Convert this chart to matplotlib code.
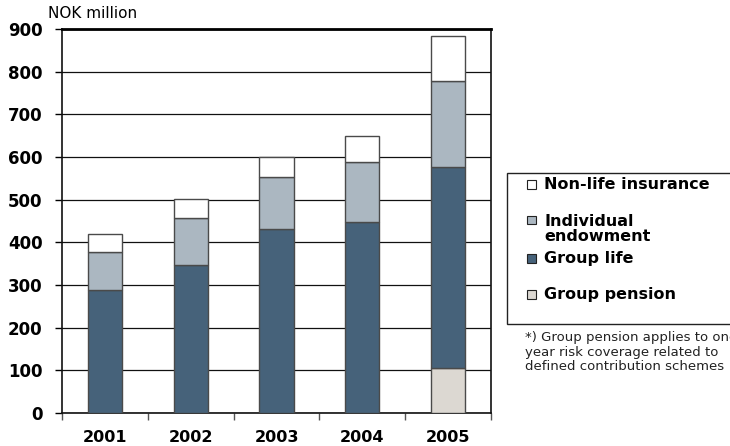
import numpy as np
import matplotlib.pyplot as plt
from matplotlib.patches import Rectangle

years = ["2001", "2002", "2003", "2004", "2005"]
group_pension = [0, 0, 0, 0, 106]
group_life = [288, 348, 432, 448, 471]
endowment = [90, 108, 121, 141, 200]
non_life = [42, 46, 47, 60, 107]

series = [
    ("Group pension", group_pension, "#dcd8d2"),
    ("Group life", group_life, "#46627a"),
    ("Individual\nendowment", endowment, "#abb7c1"),
    ("Non-life insurance", non_life, "#ffffff"),
]

plt.rcParams['font.family'] = ['DejaVu Sans']

fig = plt.figure(figsize=(7.3, 4.46), dpi=100)
ax = fig.add_axes([62 / 730, 1 - 413 / 446, 429 / 730, 384 / 446])

x = np.arange(len(years))
bottom = np.zeros(len(years))
for name, vals, col in series:
    vals = np.array(vals, dtype=float)
    ax.bar(x, vals, width=0.4, bottom=bottom, color=col,
           edgecolor="#4a4a4a", linewidth=1.0, zorder=3)
    bottom += vals

ax.set_xlim(-0.5, 4.5)
ax.set_ylim(0, 900)
ax.set_yticks(np.arange(0, 901, 100))
ax.yaxis.grid(True, color="#111111", linewidth=0.9, zorder=0)
ax.set_axisbelow(True)

# category boundaries carry the ticks, centres carry the labels
ax.set_xticks(np.arange(-0.5, 5.0, 1.0))
ax.set_xticklabels([])
ax.set_xticks(x, minor=True)
ax.set_xticklabels(years, minor=True, fontsize=11.5, fontweight="bold")
ax.tick_params(axis="x", which="minor", length=0, pad=12)
ax.tick_params(axis="x", which="major", length=5, width=1, color="#555555")
ax.tick_params(axis="y", length=5, width=1, pad=9, labelsize=12)
for lab in ax.get_yticklabels():
    lab.set_fontweight("bold")

for side in ["left", "bottom", "right"]:
    ax.spines[side].set_color("#111111")
    ax.spines[side].set_linewidth(1.2)
ax.spines["top"].set_linewidth(2.0)

fig.text(48 / 730, 1 - 14 / 446, "NOK million", fontsize=11, va="center", ha="left")

# legend box
fig.add_artist(Rectangle((507 / 730, 1 - 324 / 446), 240 / 730, 151 / 446,
                         transform=fig.transFigure, facecolor="white",
                         edgecolor="#222222", linewidth=1.0))
legend_rows = [
    ("Non-life insurance", "#ffffff", 184),
    ("Individual\nendowment", "#abb7c1", 229),
    ("Group life", "#46627a", 258),
    ("Group pension", "#dcd8d2", 294),
]
for label, col, yc in legend_rows:
    sq = 9
    ty = yc if "\n" not in label else yc - 9
    fig.add_artist(Rectangle((527 / 730, 1 - (ty + sq / 2) / 446), sq / 730, sq / 446,
                             transform=fig.transFigure, facecolor=col,
                             edgecolor="#222222", linewidth=0.8))
    fig.text(544 / 730, 1 - yc / 446, label, fontsize=11.5, fontweight="bold",
             va="center", ha="left", linespacing=1.0)

footnote = ["*) Group pension applies to one",
            "year risk coverage related to",
            "defined contribution schemes"]
for i, line in enumerate(footnote):
    fig.text(525 / 730, 1 - (338 + i * 14.5) / 446, line, fontsize=9.5,
             va="center", ha="left", color="#222222")

fig.savefig("out.png", dpi=100)
